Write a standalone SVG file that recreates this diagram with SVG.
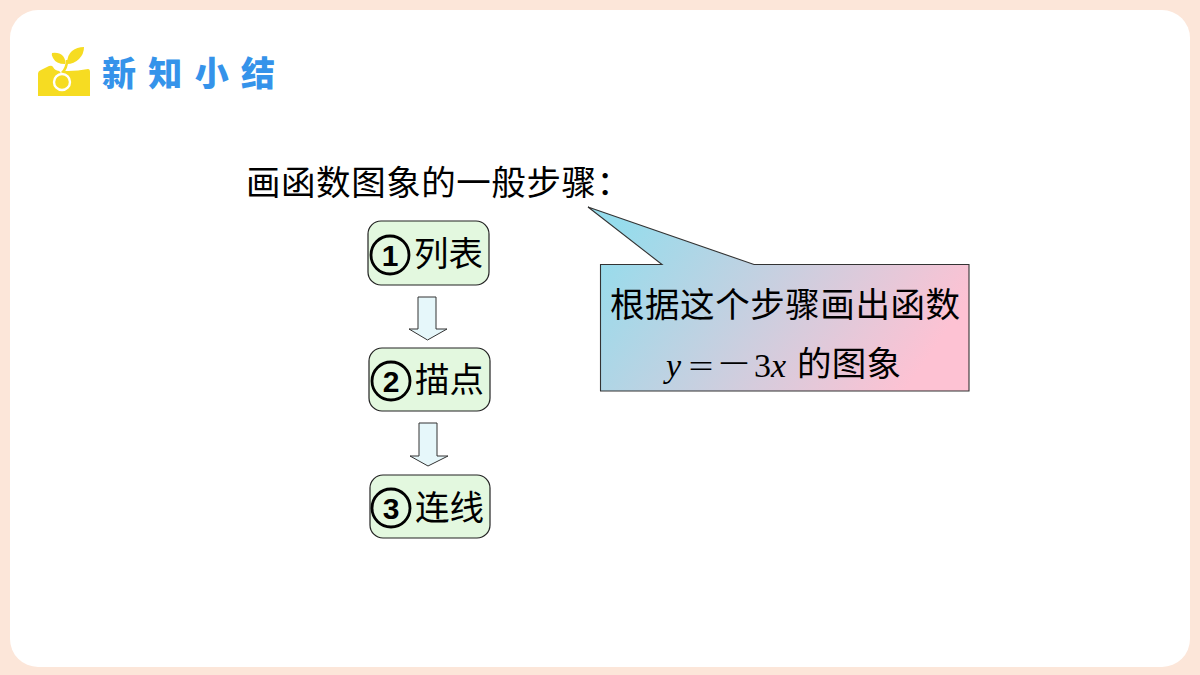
<svg xmlns="http://www.w3.org/2000/svg" width="1200" height="675" viewBox="0 0 1200 675">
<style>
.cjk{font-family:"Noto Sans CJK SC","Liberation Sans",sans-serif;fill:#000}
.big{font-size:34.5px;font-weight:400}
.step{fill:#e3f8df;stroke:#222;stroke-width:1.2}
.arrow{fill:#e6f7fa;stroke:#333;stroke-width:1}
.num{font-family:"Liberation Sans",sans-serif;font-weight:700;font-size:30px;fill:#000;text-anchor:middle}
.circ{fill:none;stroke:#000;stroke-width:2.8}
.lat{font-family:"Liberation Serif",serif;font-size:34px;fill:#000}
</style>
<defs>
<linearGradient id="callout" gradientUnits="userSpaceOnUse" x1="625" y1="215" x2="895" y2="405">
<stop offset="0" stop-color="#96dcec"/><stop offset="1" stop-color="#fdc2d3"/>
</linearGradient>
</defs>
<rect width="1200" height="675" fill="#fce6d9"/>
<rect x="10" y="10" width="1180" height="657" rx="28" fill="#fff"/>
<g id="logo">
<path d="M38 96V74Q38 71 41 70L49 66Q52 65 53 67Q55 71 60 71H68Q78 71 88 69Q90 69 90 72V96Z" fill="#f6dc22"/>
<path d="M60 72Q66 67 66 60" fill="none" stroke="#fff" stroke-width="5"/>
<path d="M62 73Q67 68 67 60" fill="none" stroke="#f6dc22" stroke-width="2.6"/>
<path d="M65 64Q56 64 53 58Q51 55 52 53Q59 52 63 56Q66 60 65 64Z" fill="#f6dc22"/>
<path d="M67 64Q67 55 72 51Q77 47 84 47Q84 54 79 59Q74 64 67 64Z" fill="#f6dc22"/>
<circle cx="62" cy="82" r="8" fill="#f6dc22" stroke="#fff" stroke-width="2.4"/>
</g>
<g id="title">
<text x="102" y="86" font-family="'Noto Sans CJK SC',sans-serif" font-weight="900" font-size="34" fill="#3593ea" textLength="173">新知小结</text>
</g>
<g id="heading">
<text class="cjk big" x="246" y="195" textLength="385">画函数图象的一般步骤：</text>
</g>
<g id="connectors">
<path class="arrow" d="M418 297H436V329H447L427.500 340L409 329H418Z"/>
<path class="arrow" d="M419 423H437V456H448L428 466L410 456H419Z"/>
</g>
<g id="step1">
<rect class="step" x="368" y="221" width="121" height="64" rx="13"/>
<circle class="circ" cx="390" cy="255" r="19"/>
<text class="num" x="390" y="266">1</text>
<text class="cjk big" x="414" y="266">列表</text>
</g>
<g id="step2">
<rect class="step" x="369" y="348" width="121" height="63" rx="13"/>
<circle class="circ" cx="391" cy="381" r="19"/>
<text class="num" x="391" y="392">2</text>
<text class="cjk big" x="415" y="392">描点</text>
</g>
<g id="step3">
<rect class="step" x="370" y="475" width="120" height="63" rx="13"/>
<circle class="circ" cx="391" cy="508" r="19"/>
<text class="num" x="391" y="519">3</text>
<text class="cjk big" x="415" y="520">连线</text>
</g>
<g id="callout-box">
<path d="M588 207L754 264.500H969V391H600.500V264.500H662Z" fill="url(#callout)" stroke="#333" stroke-width="1.1"/>
<text class="cjk big" x="610" y="317" textLength="350">根据这个步骤画出函数</text>
<text class="lat" x="666" y="377" font-style="italic">y</text>
<text class="cjk" x="687" y="377" font-size="28" font-weight="300" textLength="28" lengthAdjust="spacingAndGlyphs">＝</text>
<text class="cjk" x="716" y="377" font-size="36" font-weight="300">－</text>
<text class="lat" x="754" y="377">3</text>
<text class="lat" x="771" y="377" font-style="italic">x</text>
<text class="cjk big" x="797" y="376" textLength="104">的图象</text>
</g>
</svg>
